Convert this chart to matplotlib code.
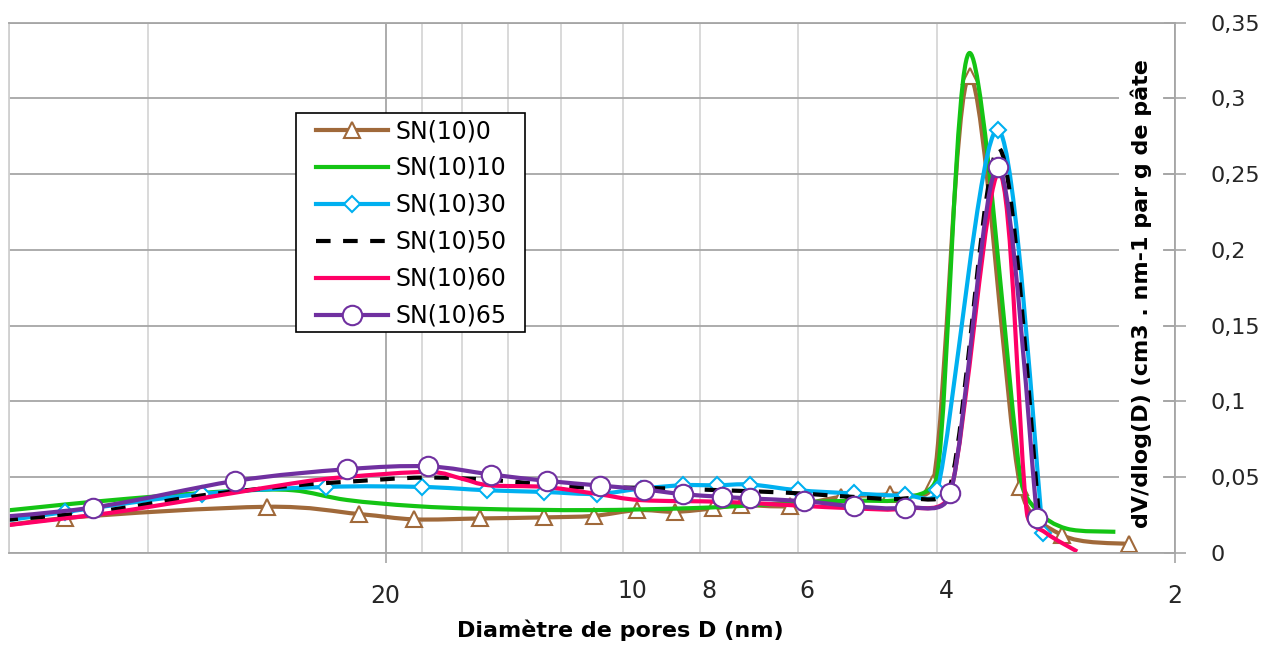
import numpy as np
import matplotlib.pyplot as plt
import matplotlib.transforms as mtransforms
from matplotlib.path import Path
from matplotlib.patches import PathPatch, Rectangle
from matplotlib.lines import Line2D
from matplotlib.ticker import FixedLocator, FuncFormatter

# ---- data (pore diameter D in nm, dV/dlog(D)) ----
d_sn0 = [71.4, 51.0, 28.3, 21.6, 18.4, 15.2, 12.6, 10.9, 9.6, 8.6, 7.7, 7.1, 6.15, 5.3, 4.59, 4.05, 3.64, 3.14, 2.78, 2.29]
v_sn0 = [0.012, 0.023, 0.0305, 0.0257, 0.0222, 0.0228, 0.0235, 0.0245, 0.0283, 0.0272, 0.0294, 0.0316, 0.031, 0.037,
         0.039, 0.046, 0.3145, 0.0434, 0.0118, 0.0059]

d_sn10 = [71.4, 51.0, 39.8, 31.0, 26.2, 22.4, 18.4, 14.8, 11.0, 8.2, 6.8, 6.0, 5.1, 4.4, 4.0, 3.64, 3.14, 2.99, 2.74, 2.38]
v_sn10 = [0.024, 0.032, 0.037, 0.041, 0.0414, 0.035, 0.031, 0.029, 0.0283, 0.0296, 0.0316, 0.0335, 0.0345, 0.036,
          0.052, 0.33, 0.05, 0.028, 0.016, 0.014]

d_sn30 = [71.4, 51.0, 34.2, 23.8, 18.0, 14.9, 12.6, 10.8, 9.5, 8.4, 7.6, 6.9, 6.0, 5.1, 4.4, 4.0, 3.35, 2.94]
v_sn30 = [0.016, 0.027, 0.039, 0.0436, 0.0436, 0.0414, 0.0403, 0.039, 0.0425, 0.0447, 0.0447, 0.0452, 0.0414,
          0.0393, 0.038, 0.0414, 0.2794, 0.0132]

d_sn50 = [71.4, 47.0, 34.2, 26.2, 22.4, 17.9, 14.5, 11.6, 9.4, 7.5, 6.15, 5.1, 4.4, 3.85, 3.34, 2.97]
v_sn50 = [0.019, 0.027, 0.038, 0.0445, 0.047, 0.0498, 0.048, 0.0436, 0.043, 0.0414, 0.0397, 0.037, 0.036, 0.045,
          0.267, 0.022]

d_sn60 = [71.4, 47.0, 39.8, 26.2, 22.4, 17.6, 16.0, 14.8, 12.6, 10.8, 9.5, 7.5, 6.15, 5.06, 4.4, 3.85, 3.34, 3.08, 2.91, 2.66]
v_sn60 = [0.014, 0.025, 0.0305, 0.046, 0.0502, 0.0535, 0.049, 0.0447, 0.0436, 0.039, 0.0349, 0.0338, 0.0316, 0.0294,
          0.0295, 0.040, 0.251, 0.026, 0.013, 0.001]

d_sn65 = [71.4, 47.0, 31.0, 22.4, 17.7, 14.7, 12.5, 10.7, 9.4, 8.4, 7.5, 6.9, 5.9, 5.1, 4.4, 3.85, 3.35, 2.99]
v_sn65 = [0.021, 0.030, 0.0476, 0.0553, 0.0572, 0.0518, 0.0476, 0.0445, 0.0419, 0.0388, 0.0371, 0.036, 0.0342,
          0.0309, 0.030, 0.0393, 0.2546, 0.0228]

labels = ["SN(10)0", "SN(10)10", "SN(10)30", "SN(10)50", "SN(10)60", "SN(10)65"]
y_ticks = [0, 0.05, 0.1, 0.15, 0.2, 0.25, 0.3, 0.35]
x_major = [2, 20]
x_minor = [4, 6, 8, 10, 12, 14, 16, 18, 40, 60]
x_minor_labels = [4, 6, 8, 10]

xlabel = "Diamètre de pores D (nm)"
ylabel = "dV/dlog(D) (cm3 . nm-1 par g de pâte"

series = [
    (d_sn0, v_sn0, dict(color="#A0693A", ls="-", marker="^", ms=12)),
    (d_sn10, v_sn10, dict(color="#14C414", ls="-", marker=None, ms=0)),
    (d_sn30, v_sn30, dict(color="#00B0F0", ls="-", marker="D", ms=8)),
    (d_sn50, v_sn50, dict(color="black", ls=(0, (3.5, 3)), marker=None, ms=0)),
    (d_sn60, v_sn60, dict(color="#FF0066", ls="-", marker=None, ms=0)),
    (d_sn65, v_sn65, dict(color="#7030A0", ls="-", marker="o", ms=14)),
]
LW = 3
gc = "#A6A6A6"

fig = plt.figure(figsize=(12.69, 6.46), dpi=100)
ax = fig.add_axes([9 / 1269, 1 - 553 / 646, 1166 / 1269, 530.3 / 646])
ax.set_xscale("log")
ax.set_xlim(60, 2)
ax.set_ylim(0, 0.35)


def smooth_path(d, v):
    # Excel-style smoothed line: Bezier segments, control arms limited to half a segment,
    # worked out in screen space and mapped back to data
    P = ax.transData.transform(np.column_stack([d, v]))
    n = len(P)
    verts = [P[0]]
    codes = [Path.MOVETO]
    for i in range(n - 1):
        p0, p1 = P[max(i - 1, 0)], P[i]
        p2, p3 = P[i + 1], P[min(i + 2, n - 1)]
        d02 = np.hypot(*(p2 - p0))
        d12 = np.hypot(*(p2 - p1))
        d13 = np.hypot(*(p3 - p1))
        f1 = 1 / 6 if d02 / 6 < d12 / 2 else d12 / 2 / d02
        f2 = 1 / 6 if d13 / 6 < d12 / 2 else d12 / 2 / d13
        verts += [p1 + (p2 - p0) * f1, p2 - (p3 - p1) * f2, p2]
        codes += [Path.CURVE4] * 3
    verts = ax.transData.inverted().transform(np.array(verts))
    return Path(verts, codes)


handles = []
for k, (d, v, st) in enumerate(series):
    z = 2 + 0.1 * k
    patch = PathPatch(smooth_path(d, v), facecolor="none", edgecolor=st["color"], lw=LW,
                      linestyle=st["ls"], capstyle="butt", zorder=z)
    ax.add_patch(patch)
    if st["marker"]:
        ax.plot(d, v, linestyle="none", marker=st["marker"], ms=st["ms"], mfc="white",
                mec=st["color"], mew=1.5, zorder=z + 0.01)
    handles.append(Line2D([], [], color=st["color"], lw=LW, linestyle=st["ls"],
                          marker=st["marker"], ms=st["ms"], mfc="white", mec=st["color"], mew=1.5))

# ---- axes ----
ax.xaxis.set_major_locator(FixedLocator(x_major))
ax.xaxis.set_minor_locator(FixedLocator(x_minor))
ax.xaxis.set_major_formatter(FuncFormatter(lambda x, p: f"{x:g}"))
ax.xaxis.set_minor_formatter(FuncFormatter(lambda x, p: f"{x:g}" if round(x) in x_minor_labels else ""))

ax.yaxis.tick_right()
ax.yaxis.set_major_locator(FixedLocator(y_ticks))
ax.yaxis.set_major_formatter(FuncFormatter(lambda y, p: f"{y:g}".replace(".", ",")))

ax.tick_params(axis="y", which="major", direction="inout", length=16, width=1.2, color=gc,
               pad=17.5, labelsize=16, labelcolor="#262626")
ax.tick_params(axis="x", which="major", direction="out", length=7, width=1.2, color=gc,
               pad=15.3, labelsize=17, labelcolor="#262626")
ax.tick_params(axis="x", which="minor", length=0, pad=18.7, labelsize=17, labelcolor="#262626")

ax.set_axisbelow(True)
ax.grid(True, which="major", axis="both", color=gc, lw=1.3)
ax.grid(True, which="minor", axis="x", color="#D0D0D0", lw=1.1)
for name, sp in ax.spines.items():
    sp.set_color(gc)
    sp.set_linewidth(1.3)
ax.spines["left"].set_color("#D0D0D0")

# minor labels (10, 8, 6, 4) sit a little right of their grid lines
shift = mtransforms.ScaledTranslation(9 / 100, 0, fig.dpi_scale_trans)
for t in ax.xaxis.get_minor_ticks():
    t.label1.set_transform(t.label1.get_transform() + shift)

ax.set_xlabel(xlabel, fontsize=16, fontweight="bold")
ax.xaxis.set_label_coords(0.524, -0.126)

ax.text(0.971, 0.49, ylabel, transform=ax.transAxes, rotation=90, ha="center", va="center",
        fontsize=16, fontweight="bold", zorder=1.5,
        bbox=dict(facecolor="white", edgecolor="none", boxstyle="square,pad=0.5"))

# legend: entries without frame, plus a square black box drawn behind them
W, H = 1269, 646
ax.add_patch(Rectangle((296 / W, 1 - 332 / H), 229 / W, 219 / H, transform=fig.transFigure,
                       facecolor="white", edgecolor="black", lw=1.2, zorder=4.9, clip_on=False))
leg = ax.legend(handles, labels, loc="upper left", bbox_to_anchor=(316 / W, 1 - 119 / H),
                bbox_transform=fig.transFigure, borderaxespad=0, borderpad=0, fontsize=17,
                frameon=False, handlelength=3.05, handletextpad=0.3, labelspacing=0.55, numpoints=1)
leg.set_zorder(5)

fig.savefig("out.png", dpi=100)
